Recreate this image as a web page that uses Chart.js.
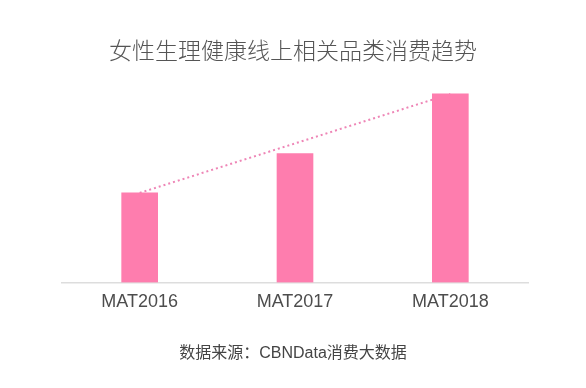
<!DOCTYPE html>
<html>
<head>
<meta charset="utf-8">
<script src="https://cdn.jsdelivr.net/npm/chart.js@4/dist/chart.umd.min.js"></script>
<style>
  html, body { margin: 0; padding: 0; background: #fff; }
  #wrap { position: relative; width: 586px; height: 388px; overflow: hidden; }
  #c { position: absolute; left: 0; top: 0; }
  .title { position: absolute; left: 0; width: 586px; top: 38px; text-align: center;
    font-family: "Noto Sans CJK SC", "Liberation Sans", sans-serif; font-size: 23px; line-height: 23px; color: #555; font-weight: 300; }
  .src { position: absolute; left: 0; width: 586px; top: 345px; text-align: center;
    font-family: "Liberation Sans", "Noto Sans CJK SC", sans-serif; font-size: 16px; line-height: 16px; color: #444; }
</style>
</head>
<body>
<div id="wrap">
  <canvas id="c" width="586" height="388"></canvas>
  <div class="title">女性生理健康线上相关品类消费趋势</div>
  <div class="src">数据来源：CBNData消费大数据</div>
</div>
<script>
const categories = ["MAT2016", "MAT2017", "MAT2018"];
const barValues = [90, 129.5, 189.5];
const trendValues = [90, null, 189.5];

new Chart(document.getElementById('c'), {
  data: {
    labels: categories,
    datasets: [
      {
        type: 'bar',
        data: barValues,
        backgroundColor: '#FE7DAE',
        barThickness: 36,
        order: 1
      },
      {
        type: 'line',
        data: trendValues,
        spanGaps: true,
        borderColor: '#EE85B6',
        borderWidth: 2,
        borderDash: [2, 3],
        pointRadius: 0,
        fill: false,
        order: 2
      }
    ]
  },
  options: {
    responsive: false,
    animation: false,
    layout: { padding: { left: 62, right: 58, top: 83.5, bottom: 66 } },
    plugins: { legend: { display: false }, tooltip: { enabled: false }, title: { display: false } },
    scales: {
      y: { display: false, min: 0, max: 200 },
      x: {
        offset: true,
        grid: { display: false, drawTicks: false },
        border: { display: true, color: '#dddddd', width: 1.5 },
        ticks: {
          padding: 9,
          color: '#4d4d4d',
          font: { family: '"Liberation Sans", "Noto Sans", sans-serif', size: 18 }
        }
      }
    }
  }
});
</script>
</body>
</html>
